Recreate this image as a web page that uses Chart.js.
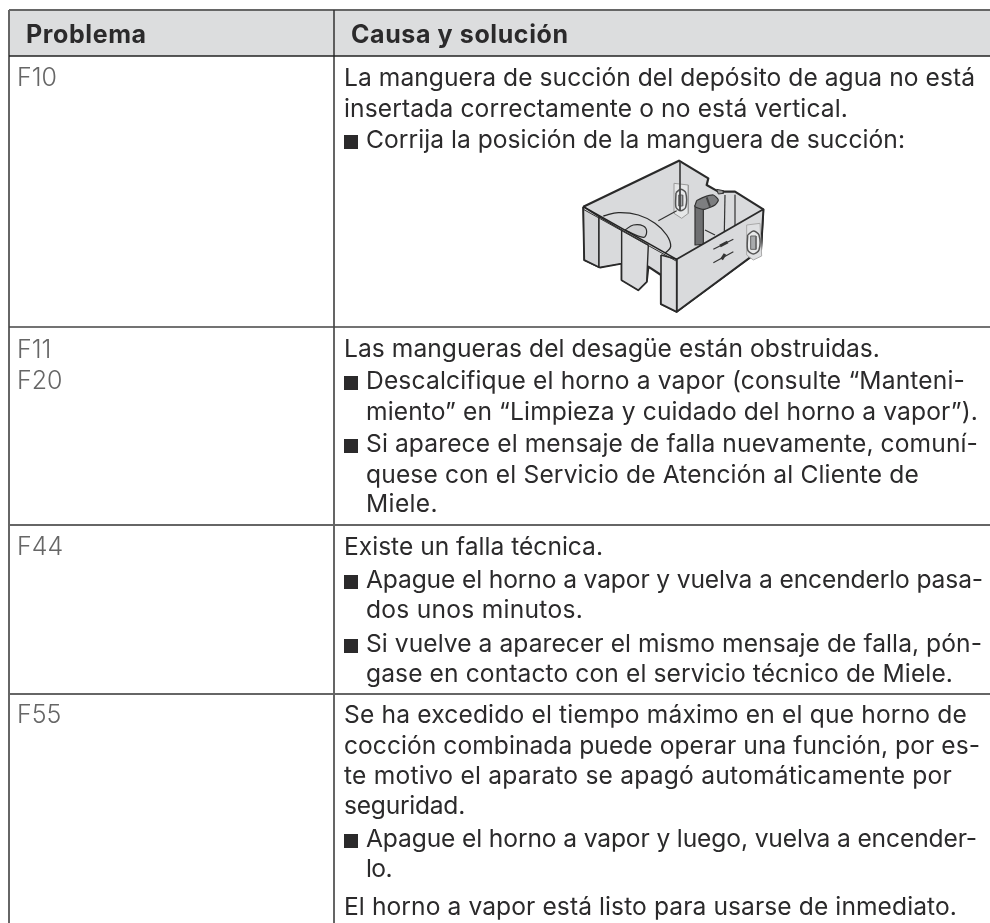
<!DOCTYPE html>
<html><head><meta charset="utf-8">
<style>html,body{margin:0;padding:0;background:#fff}#w{width:990px;height:923px;position:relative}canvas{display:block}</style>
<script src="https://cdn.jsdelivr.net/npm/chart.js@4"></script></head>
<body><div id="w"><canvas id="c" width="990" height="923"></canvas></div>
<script>
const columnHeaders=["Problema","Causa y solución"];
const codes=[["F10",86],["F11",358],["F20",389],["F44",555],["F55",723]];
const textLines=[
["La manguera de succión del depósito de agua no está",0,86],
["insertada correctamente o no está vertical.",0,117],
["Corrija la posición de la manguera de succión:",1,148],
["Las mangueras del desagüe están obstruidas.",0,357],
["Descalcifique el horno a vapor (consulte “Manteni-",1,389],
["miento” en “Limpieza y cuidado del horno a vapor”).",1,420],
["Si aparece el mensaje de falla nuevamente, comuní-",1,452],
["quese con el Servicio de Atención al Cliente de",1,483],
["Miele.",1,512],
["Existe un falla técnica.",0,555],
["Apague el horno a vapor y vuelva a encenderlo pasa-",1,588],
["dos unos minutos.",1,618],
["Si vuelve a aparecer el mismo mensaje de falla, pón-",1,652],
["gase en contacto con el servicio técnico de Miele.",1,682],
["Se ha excedido el tiempo máximo en el que horno de",0,723],
["cocción combinada puede operar una función, por es-",0,754],
["te motivo el aparato se apagó automáticamente por",0,784],
["seguridad.",0,814],
["Apague el horno a vapor y luego, vuelva a encender-",1,847],
["lo.",1,877],
["El horno a vapor está listo para usarse de inmediato.",0,915]];
const lineEnds=[975,848,905,880,965,978,978,919,438,603,983,583,982,953,967,980,952,465,977,392,957];
const bulletIdx=[2,4,6,10,12,18];
const rowLines=[56,327,525,694];
const colLine=334, leftEdge=9, topEdge=10, rightEdge=990, bottomEdge=923;
const FONT='Inter';
// sketch of the water tank
const silhouette=[[25,170],[312,32],[400,85],[395,105],[430,125],[480,125],[565,178],[558,298],[305,485],[258,462],[258,375],[220,350],[215,395],[190,420],[140,390],[140,340],[75,352],[28,330]];
const rightWall=[[305,328],[565,178],[558,298],[305,485]];
const leftPanelA=[[25,170],[72,200],[72,352],[28,330]];
const leftPanelB=[[72,200],[140,240],[140,340],[72,352]];
const tab=[[140,240],[220,285],[215,395],[190,420],[140,390]];
const rightPanel=[[258,315],[305,328],[305,485],[258,462]];
const lip=[[25,170],[305,328]];
const lip2=[[25,178],[305,334]];
const backCorner=[[315,36],[315,182]];
const floorLine=[[305,182],[250,212]];
const floorLine2=[[390,240],[420,255]];
const ribA=[[450,135],[448,245]];
const ribB=[[480,135],[480,228]];
const bigArc=[[85,198],[130,188],[190,195],[240,220],[275,255],[287,290],[270,310]];
const smallArc=[[150,240],[175,225],[205,228],[215,245],[205,262]];
const hose=[[360,165],[385,165],[385,283],[360,285]];
const elbow=[[365,152],[385,142],[415,135],[430,150],[420,165],[388,178],[360,170]];
const elbowBand=[[395,142],[405,170]];
const tube=[[425,118],[445,122],[445,130],[430,132]];
const bracketBack=[[297,100],[340,105],[340,190],[320,205],[297,190]];
const capsuleBack=[[303,128],[317,118],[332,128],[332,172],[317,182],[303,172]];
const capsuleBackIn=[[311,135],[323,135],[323,168],[311,168]];
const bracketRight=[[515,225],[555,220],[560,318],[535,330],[515,315]];
const capsuleRight=[[518,255],[535,243],[552,255],[552,300],[535,312],[518,300]];
const capsuleRightIn=[[527,258],[543,258],[543,298],[527,298]];
const markA=[[415,298],[475,268]];
const markAthick=[[435,288],[458,276]];
const markB=[[415,338],[475,305]];
const markBthick=[[440,328],[450,312]];
const sketchX=575, sketchY=150, sketchScale=1/3;
const shapes=[
 [silhouette,'#d9dadc','#2a2a2a',2.2],
 [bracketBack,'#e6e7e8','#9a9a9a',1],
 [capsuleBack,'#e8e9ea','#555',1.5,0.3],
 [capsuleBackIn,'#a8aaac','#666',1],
 [backCorner,null,'#444',1],[floorLine,null,'#333',1.2],[floorLine2,null,'#333',1.2],
 [bigArc,null,'#2a2a2a',1.3,0.4],
 [ribA,null,'#333',1.2],[ribB,null,'#333',1.2],
 [tube,'#999','#333',1],[hose,'#6e6f71','#333',1.2],[elbow,'#7d7e80','#333',1.2,0.2],[elbowBand,null,'#444',2],
 [rightWall,'#d9dadc','#2a2a2a',1.8],
 [leftPanelA,'#d4d5d7','#2a2a2a',1.6],[leftPanelB,'#d9dadc','#2a2a2a',1.4],
 [tab,'#dbdcde','#2a2a2a',1.4],[smallArc,'#cfd0d2','#2a2a2a',1.2,0.4],[rightPanel,'#dbdcde','#2a2a2a',1.6],
 [lip,null,'#222',1.6],[lip2,null,'#333',1],
 [bracketRight,'#dfe0e2','#aaa',1],
 [capsuleRight,'#e8e9ea','#555',1.5,0.3],[capsuleRightIn,'#a8aaac','#666',1],
 [markA,null,'#333',1.2],[markAthick,null,'#333',3],[markB,null,'#333',1.2],[markBthick,null,'#333',3]
];
function fitText(c,t,x,end,y){
 c.letterSpacing='0px';
 const w=c.measureText(t).width;
 c.letterSpacing=((end-x-w)/Math.max(1,t.length))+'px';
 c.fillText(t,x,y);
 c.letterSpacing='0px';
}
const tablePlugin={id:'table',afterDatasetsDraw(ch){
 const c=ch.ctx,X=ch.scales.x,Y=ch.scales.y;
 c.save();
 c.textBaseline='alphabetic';
 c.fillStyle='#2b2a2b';
 c.font='700 25px '+FONT;
 c.letterSpacing='0.6px';
 c.fillText(columnHeaders[0],X.getPixelForValue(26),Y.getPixelForValue(43));
 c.fillText(columnHeaders[1],X.getPixelForValue(351),Y.getPixelForValue(43));
 c.letterSpacing='0px';
 c.fillStyle='#666';
 c.font='300 25px '+FONT;
 codes.forEach(k=>c.fillText(k[0],X.getPixelForValue(17),Y.getPixelForValue(k[1])));
 c.fillStyle='#2b2a2b';
 c.font='400 24.6px '+FONT;
 textLines.forEach((l,i)=>{
  const x=l[1]?366:344;
  fitText(c,l[0],X.getPixelForValue(x),X.getPixelForValue(lineEnds[i]),Y.getPixelForValue(l[2]));
  if(bulletIdx.includes(i)) c.fillRect(X.getPixelForValue(344),Y.getPixelForValue(l[2]-13),14,14);
 });
 c.restore();
}};
const hdrFill={id:'hdr',beforeDatasetsDraw(ch){const c=ch.ctx,X=ch.scales.x,Y=ch.scales.y;c.save();c.fillStyle='#dcddde';
 c.fillRect(X.getPixelForValue(leftEdge),Y.getPixelForValue(topEdge),X.getPixelForValue(rightEdge)-X.getPixelForValue(leftEdge),Y.getPixelForValue(rowLines[0])-Y.getPixelForValue(topEdge));c.restore();}};
const line=(a,b,w,col)=>({data:[{x:a[0],y:a[1]},{x:b[0],y:b[1]}],borderColor:col,borderWidth:w,pointRadius:0,tension:0,fill:false});
const ds=[];
shapes.forEach(s=>{
 const pts=s[0].map(p=>({x:sketchX+p[0]*sketchScale,y:sketchY+p[1]*sketchScale}));
 if(s[1]) pts.push(pts[0]);
 ds.push({data:pts,borderColor:s[2],borderWidth:s[3],backgroundColor:s[1]||'transparent',fill:s[1]?'shape':false,pointRadius:0,tension:s[4]||0,borderJoinStyle:'round'});
});
ds.push(line([leftEdge,topEdge],[rightEdge,topEdge],2,'#666'));
ds.push(line([leftEdge,topEdge],[leftEdge,bottomEdge],2,'#666'));
ds.push(line([colLine,topEdge],[colLine,bottomEdge],1.5,'#333'));
ds.push(line([leftEdge,rowLines[0]],[rightEdge,rowLines[0]],1.5,'#222'));
ds.push(line([leftEdge,rowLines[1]],[rightEdge,rowLines[1]],1.5,'#444'));
ds.push(line([leftEdge,rowLines[2]],[rightEdge,rowLines[2]],2,'#666'));
ds.push(line([leftEdge,rowLines[3]],[rightEdge,rowLines[3]],2,'#666'));
ds.forEach((d,i)=>{d.order=-i;d.clip=false;});
new Chart(document.getElementById('c'),{type:'line',data:{datasets:ds},plugins:[hdrFill,tablePlugin],options:{responsive:false,animation:false,layout:{padding:0},plugins:{legend:{display:false},tooltip:{enabled:false}},
 scales:{x:{type:'linear',min:0,max:990,display:false},y:{type:'linear',min:0,max:923,reverse:true,display:false}}}});
</script></body></html>
